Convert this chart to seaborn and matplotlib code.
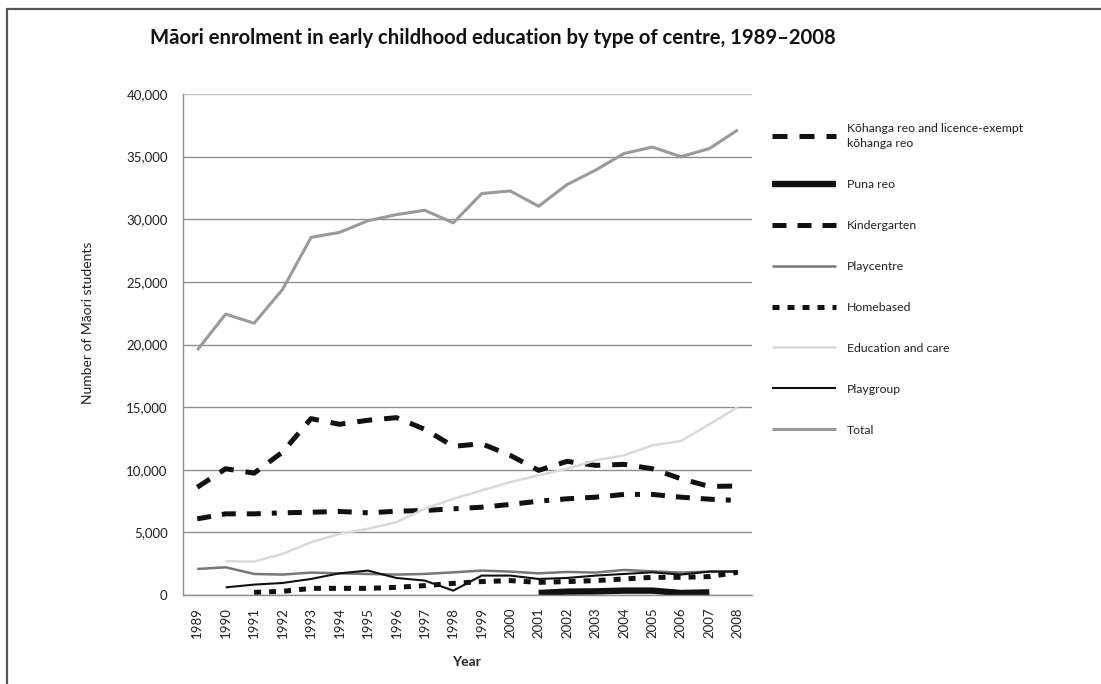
# Maori enrolment in early childhood education by type of centre, 1989-2008
import numpy as np
import matplotlib.pyplot as plt
import pandas as pd
import seaborn as sns
from matplotlib.lines import Line2D

nan = np.nan

# Data
years = list(range(1989, 2009))
kohanga = [8600, 10080, 9730, 11410, 14080, 13630, 13950, 14160, 13230, 11870,
           12080, 11150, 9950, 10670, 10350, 10430, 10080, 9280, 8670, 8700]
puna_reo = [nan] * 12 + [160, 270, 290, 350, 350, 160, 210, nan]
kindergarten = [6080, 6480, 6480, 6560, 6610, 6670, 6560, 6690, 6750, 6880,
                7010, 7230, 7490, 7680, 7810, 8030, 8030, 7810, 7650, 7550]
playcentre = [2080, 2210, 1680, 1630, 1790, 1730, 1680, 1630, 1680, 1810,
              1950, 1870, 1730, 1840, 1790, 2000, 1890, 1790, 1870, 1890]
homebased = [nan, nan, 210, 290, 530, 530, 530, 610, 750, 930,
             1070, 1150, 1010, 1070, 1150, 1280, 1410, 1410, 1470, 1810]
edu_care = [nan, 2690, 2670, 3280, 4210, 4880, 5280, 5810, 6880, 7680,
            8350, 9010, 9550, 10080, 10750, 11150, 11950, 12290, 13630, 15010]
playgroup = [nan, 610, 830, 960, 1280, 1730, 1950, 1360, 1150, 350,
             1550, 1550, 1280, 1360, 1550, 1680, 1810, 1630, 1870, 1870]
total = [19550, 22430, 21700, 24400, 28550, 28950, 29880, 30370, 30720, 29710,
         32050, 32260, 31040, 32770, 33920, 35250, 35760, 35000, 35640, 37130]

series = {
    'Kōhanga reo and licence-exempt\nkōhanga reo': kohanga,
    'Puna reo': puna_reo,
    'Kindergarten': kindergarten,
    'Playcentre': playcentre,
    'Homebased': homebased,
    'Education and care': edu_care,
    'Playgroup': playgroup,
    'Total': total,
}

# line styles: colour, width (pt), linestyle
styles = {
    'Kōhanga reo and licence-exempt\nkōhanga reo': ('#111111', 3.6, (0, (3.0, 2.4))),
    'Puna reo': ('#111111', 4.6, '-'),
    'Kindergarten': ('#111111', 3.6, (0, (2.8, 2.2, 2.8, 2.2, 2.8, 2.2, 1.0, 2.2))),
    'Playcentre': ('#777777', 1.8, '-'),
    'Homebased': ('#111111', 3.6, (0, (1.4, 1.6))),
    'Education and care': ('#d9d9d9', 1.8, '-'),
    'Playgroup': ('#111111', 1.5, '-'),
    'Total': ('#9a9a9a', 2.2, '-'),
}

sns.set_style('white')
plt.rcParams['font.family'] = ['Lato', 'DejaVu Sans']

fig = plt.figure(figsize=(11.01, 6.84), dpi=100)
W, H = 1101, 684
ax = fig.add_axes([183 / W, 1 - 595 / H, (752 - 183) / W, (595 - 94) / H])

for name, vals in series.items():
    df = pd.DataFrame({'year': years, 'value': vals}).dropna()
    color, lw, ls = styles[name]
    sns.lineplot(data=df, x='year', y='value', color=color, linewidth=lw,
                 linestyle=ls, label=name, ax=ax,
                 solid_capstyle='butt', dash_capstyle='butt')

# axes
ax.set_xlim(1988.5, 2008.5)
ax.set_ylim(0, 40000)
ax.set_yticks(range(0, 40001, 5000))
ax.set_yticklabels([f'{v:,}' for v in range(0, 40001, 5000)], fontsize=9.5, color='#222222')
ax.set_xticks(years)
ax.set_xticklabels([str(y) for y in years], rotation=90, fontsize=9.5, color='#222222')
ax.set_xticks(np.arange(1988.5, 2009, 1.0), minor=True)
ax.tick_params(axis='x', which='major', length=0, pad=9)
ax.tick_params(axis='x', which='minor', length=5, color='#888888', width=1)
ax.tick_params(axis='y', length=4, color='#888888', width=1, pad=7)
ax.grid(axis='y', color='#8f8f8f', linewidth=1)
ax.get_ygridlines()[-1].set_color('#c0c0c0')
ax.set_axisbelow(True)
for s in ['top', 'right']:
    ax.spines[s].set_visible(False)
for s in ['left', 'bottom']:
    ax.spines[s].set_color('#8f8f8f')
    ax.spines[s].set_linewidth(1)

ax.set_xlabel('')
ax.set_ylabel('')
fig.text(466 / W, 1 - 662 / H, 'Year', ha='center', va='center',
         fontsize=10, fontweight='bold', color='#222222')
fig.text(88 / W, 1 - 323 / H, 'Number of Māori students', rotation=90,
         ha='center', va='center', fontsize=10, color='#222222')
fig.text(150 / W, 1 - 38 / H,
         'Māori enrolment in early childhood education by type of centre, 1989–2008',
         ha='left', va='center', fontsize=14.6, fontweight='bold', color='#111111')

# legend outside on the right
leg = ax.legend(loc='upper left', bbox_to_anchor=(772 / W, 1 - 123 / H),
                bbox_transform=fig.transFigure, frameon=False, fontsize=8.8,
                handlelength=5.2, handletextpad=0.9, labelspacing=2.45,
                borderaxespad=0, borderpad=0)
for t in leg.get_texts():
    t.set_linespacing(1.45)
    t.set_color('#222222')

# page frame (top and left edges)
fig.add_artist(Line2D([7 / W, 1], [1 - 9 / H, 1 - 9 / H], transform=fig.transFigure,
                      color='#555555', linewidth=1.6))
fig.add_artist(Line2D([7 / W, 7 / W], [0, 1 - 9 / H], transform=fig.transFigure,
                      color='#555555', linewidth=1.6))

fig.savefig('out.png', dpi=100)
